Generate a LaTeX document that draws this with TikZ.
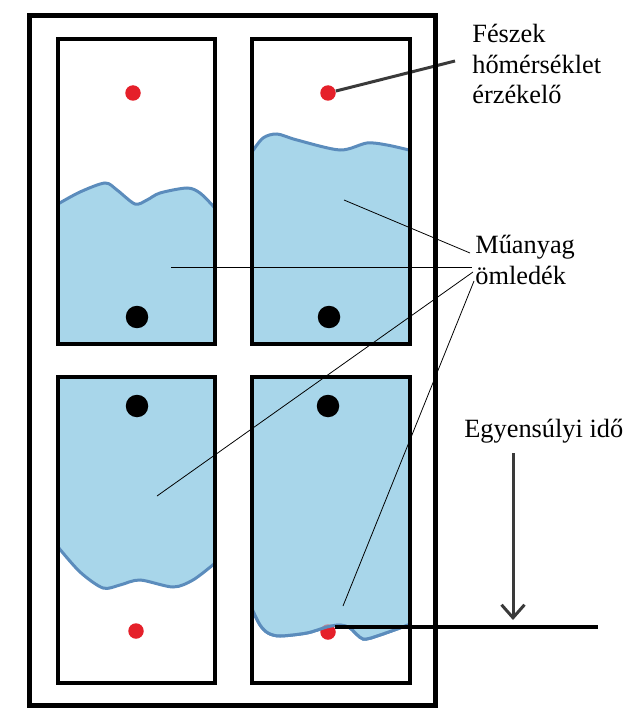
\documentclass[tikz,border=0pt]{standalone}
\usepackage{fontspec}
\setmainfont{Liberation Serif}
\usepackage{xcolor}
\usetikzlibrary{positioning,arrows.meta}
\definecolor{meltblue}{HTML}{A8D6EA}
\definecolor{meltline}{HTML}{5B8CBC}
\definecolor{sensorred}{HTML}{E5202A}
\definecolor{darkline}{HTML}{3A3A3A}
\tikzset{
  nestbox/.style={draw=black,line width=0.66mm},
  meltfill/.style={fill=meltblue},
  meltedge/.style={draw=meltline,line width=0.6mm,line cap=round},
  sensordot/.style={circle,fill=sensorred,inner sep=0pt,minimum size=3.1mm},
  pindot/.style={circle,fill=black,inner sep=0pt,minimum size=4.5mm},
  leader/.style={draw=black,line width=0.45pt},
  labeltext/.style={inner sep=0pt,anchor=base west,align=left,font=\fontsize{15}{17.6}\selectfont},
}
\newcommand{\meltarea}[3]{
  \fill[meltfill] plot[smooth] coordinates {#1} -- #2 -- #3 -- cycle;
  \draw[meltedge] plot[smooth] coordinates {#1};
}
\begin{document}
\begin{tikzpicture}[x=0.02cm,y=-0.02cm]
\useasboundingbox (0,0) rectangle (634,716);

% melt in the four nests
\meltarea{(58,204) (80,192) (105,183) (117,190) (135,204) (147,200) (160,193) (187,188) (200,193) (214,207)}{(214,344)}{(58,344)}
\meltarea{(252,152) (263,138) (277,134) (297,140) (340,150) (367,143) (387,145) (409,150)}{(409,344)}{(252,344)}
\meltarea{(58,547) (80,572) (103,588) (120,585) (140,580) (173,587) (193,580) (214,564)}{(214,377)}{(58,377)}
\meltarea{(252,609) (260,625) (268,633) (280,636) (307,633) (327,627) (340,625) (350,628) (363,639) (380,635) (408,625)}{(408,377)}{(252,377)}

% sensors and pins
\node[sensordot] (sensorA) at (133,93) {};
\node[sensordot] (sensorB) at (328,93) {};
\node[sensordot] (sensorC) at (136,631) {};
\node[sensordot] (sensorD) at (328,632) {};
\node[pindot] (pinA) at (137,317) {};
\node[pindot] (pinB) at (329,317) {};
\node[pindot] (pinC) at (137,406) {};
\node[pindot] (pinD) at (328,406) {};

% melt over the last sensor
\fill[meltblue,fill opacity=0.55] plot[smooth] coordinates {(252,609) (260,625) (268,633) (280,636) (307,633) (327,627) (340,625) (350,628) (363,639) (380,635) (408,625)} -- (408,600) -- (252,600) -- cycle;
\draw[meltedge] plot[smooth] coordinates {(252,609) (260,625) (268,633) (280,636) (307,633) (327,627) (340,625) (350,628) (363,639) (380,635) (408,625)};

% labels
\node[labeltext] (nestlabel) at (472,104) {Fészek\\hőmérséklet\\érzékelő};
\node[labeltext] (meltlabel) at (475,284) {Műanyag\\ömledék};
\node[labeltext] (timelabel) at (464,437) {Egyensúlyi idő};

% leader ends
\coordinate (nestend) at (455,61);
\coordinate (meltA) at (344,200);
\coordinate (meltB) at (171,267);
\coordinate (meltC) at (157,496);
\coordinate (meltD) at (343,606);
\coordinate (endA) at (470,253);
\coordinate (endB) at (472,267);
\coordinate (endC) at (473,272);
\coordinate (endD) at (474,281);
\coordinate (arrowtop) at (513,453);
\coordinate (arrowtip) at (513,620);
\coordinate (timeend) at (598,627);
\coordinate (timestart) at (335,627);

\draw[darkline,line width=0.6mm] (sensorB) -- (nestend);

% boxes
\foreach \xa/\xb/\ya/\yb in {58/215/39/344,252/410/39/344,58/215/377/683,252/410/377/683}
  \draw[nestbox] (\xa,\ya) rectangle (\xb,\yb);
\draw[black,line width=1mm] (29,16) rectangle (435,705);

\draw[leader] (meltA) -- (endA);
\draw[leader] (meltB) -- (endB);
\draw[leader] (meltC) -- (endC);
\draw[leader] (meltD) -- (endD);
\draw[darkline,line width=0.6mm,-{Straight Barb[length=2.6mm,width=4.6mm]}] (arrowtop) -- (arrowtip);
\draw[black,line width=0.75mm] (timestart) -- (timeend);
\end{tikzpicture}
\end{document}
